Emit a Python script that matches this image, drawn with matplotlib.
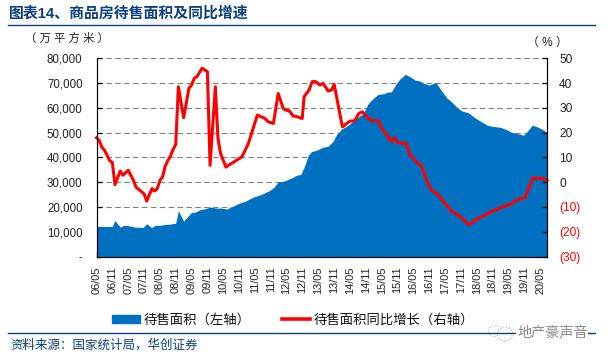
import matplotlib
matplotlib.use('Agg')
from matplotlib import pyplot as plt
from matplotlib.lines import Line2D
from matplotlib.patches import Ellipse, Patch

plt.rcParams['font.family'] = ['Liberation Sans', 'Noto Sans CJK SC', 'DejaVu Sans']

# months since 2006/05
area_months = [0, 6, 6.9, 9, 10.2, 11.7, 14.6, 17.7, 19, 20.9, 22.1, 24.7, 25.9, 27.8, 30, 31, 33, 35.8, 37.3,
               39.2, 41, 43, 45.5, 47.3, 49.2, 51.1, 53, 54.9, 56.2, 59.4, 62.5, 65.7, 67.3, 68.8, 70.7, 73.9,
               75.7, 77.4, 78.9, 80.2, 81.4, 83.3, 85.8, 87.7, 89.6, 90.9, 92.8, 95.3, 98.4, 101, 102.9, 104.8,
               106.6, 108.9, 109.8, 111.7, 113.6, 114.9, 117, 118.7, 120.6, 122.5, 124, 126, 128.5, 130, 132.6,
               134.4, 136.3, 138.2, 140.8, 143.3, 145.8, 147.9, 150.2, 152.7, 155.2, 157.1, 159.7, 161.8, 163.5,
               165, 167.2, 169.1, 170.6]
area_values = [12120, 12120, 14550, 11850, 12520, 12520, 11850, 11710, 13200, 11580, 12520, 12660, 12930, 13060,
               13470, 18460, 14280, 17650, 17920, 18870, 19270, 19950, 19540, 19540, 19140, 19950, 21030, 21840,
               22240, 24000, 25070, 26700, 28040, 30070, 30340, 31690, 32770, 33170, 36820, 40870, 42350, 42890,
               44100, 44510, 46530, 49230, 51390, 53000, 55700, 57730, 61780, 63810, 65430, 65700, 66240, 66500,
               69880, 71630, 73520, 72580, 71230, 70820, 69880, 69200, 70280, 67850, 64070, 62450, 60430, 58810,
               58000, 55970, 54350, 53000, 52470, 52200, 51250, 50170, 49500, 48960, 50980, 53000, 52200, 51120,
               50040]

growth_months = [0, 1, 2, 3, 4, 5, 6, 7, 8, 9, 10, 12, 13, 14, 15, 16, 18, 19, 21, 22, 23, 24, 25, 26, 27, 28, 29,
                 30, 31, 33, 35, 36, 37, 38, 40, 42, 43, 45, 46, 47, 49, 55, 56, 57.5, 58.7, 60.9, 63.8, 65, 67,
                 68.8, 70.7, 71.6, 73, 74.5, 76, 77.9, 78.6, 80.5, 81.7, 83, 84.6, 85.8, 87.7, 89, 90, 93.1, 95.9,
                 97.8, 99.3, 100.7, 102.6, 104.1, 106.6, 108.5, 111.7, 112.7, 114.2, 117.2, 118.7, 120.6, 123.1,
                 125, 126.9, 129, 130.7, 134.4, 137.6, 141, 143.9, 147, 149.6, 153.4, 156.5, 159.7, 162.2, 165.3,
                 167, 169.1, 170.6]
growth_values = [17.9, 16.9, 14.2, 12.9, 10.9, 8.7, 7.9, -1.0, 1.8, 4.5, 2.8, 4.8, 2.8, 0.7, -2.1, -2.9, -4.7, -7.6,
                 -2.6, -3.6, -2.6, 0.7, 2.1, 6.4, 8.7, 10.5, 13.2, 15.2, 38.5, 26, 37.9, 39.2, 41.9, 42.6, 46, 44.6,
                 6.8, 38.5, 17.6, 11.5, 6.1, 10.2, 12.2, 15.6, 19.6, 27.1, 25.7, 24.4, 23.7, 35.8, 29.8, 29.1, 28.8,
                 26.7, 26.4, 25.7, 34.5, 37.2, 40.6, 40.6, 39.2, 39.9, 36.8, 37.2, 39.5, 22.3, 24.6, 24.8, 27.7,
                 28.4, 26.1, 24.8, 24.8, 21, 16.5, 17.9, 15.9, 15.6, 11.1, 8.8, 6.5, 0.7, -3.3, -4.7, -6.9, -11.7,
                 -13.7, -17.2, -15, -13.4, -11.8, -10.1, -9, -6.9, -6.4, 1.8, 1.4, 1.6, 0.6]

x_labels = ['06/05', '06/11', '07/05', '07/11', '08/05', '08/11', '09/05', '09/11', '10/05', '10/11', '11/05',
            '11/11', '12/05', '12/11', '13/05', '13/11', '14/05', '14/11', '15/05', '15/11', '16/05', '16/11',
            '17/05', '17/11', '18/05', '18/11', '19/05', '19/11', '20/05']
left_ticks = [0, 10000, 20000, 30000, 40000, 50000, 60000, 70000, 80000]
left_labels = ['-', '10,000', '20,000', '30,000', '40,000', '50,000', '60,000', '70,000', '80,000']
right_ticks = [-30, -20, -10, 0, 10, 20, 30, 40, 50]
right_labels = ['(30)', '(20)', '(10)', '0', '10', '20', '30', '40', '50']

BLUE = '#0070C0'
RED = '#FF0000'
NAVY = '#0B3F7F'
TEXT = '#222222'
W, H = 610, 359

fig = plt.figure(figsize=(W / 100, H / 100), dpi=100)
ax = fig.add_axes([96.5 / W, 1 - 256.5 / H, 450.8 / W, 198.2 / H])
ax.fill_between(area_months, area_values, 0, color=BLUE, lw=0, zorder=2)
ax.set_xlim(0, 170.7)
ax.set_ylim(0, 80000)
ax.set_yticks(left_ticks)
ax.set_yticklabels(left_labels, fontsize=8.3, color=TEXT)
ax.set_xticks(range(0, 169, 6))
ax.set_xticklabels(x_labels, rotation=90, fontsize=7.9, color=TEXT)
ax.tick_params(axis='both', direction='in', length=3.6, width=0.9)
ax.tick_params(axis='x', pad=7)
ax.tick_params(axis='y', pad=10)
ax.grid(axis='y', color='#808080', ls=(0, (5, 3)), lw=0.8, zorder=1)
ax.set_axisbelow(True)
ax.spines['top'].set_visible(False)

ax2 = ax.twinx()
ax2.plot(growth_months, growth_values, color=RED, lw=2.2, solid_joinstyle='round', clip_on=False)
ax2.set_ylim(-30, 50)
ax2.set_yticks(right_ticks)
ax2.set_yticklabels(right_labels, fontsize=8.6)
for tick_text, v in zip(ax2.get_yticklabels(), right_ticks):
    tick_text.set_color(RED if v < 0 else TEXT)
ax2.tick_params(axis='y', direction='in', length=3.6, width=0.9, pad=8.5)
ax2.spines['top'].set_visible(False)

# header and footer
fig.text(9 / W, 1 - 13 / H, '图表14、商品房待售面积及同比增速', fontsize=10.7, fontweight='bold', color=NAVY,
         va='center', ha='left')
fig.add_artist(Line2D([8 / W, 595 / W], [1 - 24.5 / H] * 2, color=NAVY, lw=1.0))
fig.add_artist(Line2D([8 / W, 595 / W], [1 - 332.5 / H] * 2, color=NAVY, lw=1.0))
fig.text(10 / W, 1 - 345 / H, '资料来源：国家统计局，华创证券', fontsize=9.0, color=NAVY, va='center', ha='left')
fig.text(25 / W, 1 - 38 / H, '（ 万 平 方 米 ）', fontsize=8.2, color=TEXT, va='center', ha='left')
fig.text(527 / W, 1 - 43 / H, '（ % ）', fontsize=8.6, color=TEXT, va='center', ha='left')

handles = [Patch(color=BLUE), Line2D([], [], color=RED, lw=2.6)]
fig.legend(handles, ['待售面积（左轴）', '待售面积同比增长（右轴）'], loc='center left',
           bbox_to_anchor=(100 / W, 1 - 320 / H), ncol=2, frameon=False, fontsize=9.6, handlelength=2.1,
           handleheight=0.55, handletextpad=0.3, columnspacing=2.3, labelcolor='#111111')

# watermark
fig.add_artist(Ellipse((495 / W, 1 - 331 / H), 13 / W, 11 / H, fill=False, ec='#BBBBBB', lw=0.8, ls=':'))
fig.add_artist(Ellipse((505 / W, 1 - 334 / H), 15 / W, 14 / H, facecolor='white', ec='#AAAAAA', lw=0.8, ls=':'))
fig.text(517 / W, 1 - 332 / H, '地产豪声音', fontsize=10.2, color='#8A8A8A', va='center', ha='left',
         bbox=dict(facecolor='white', edgecolor='none', pad=0.5))

fig.savefig('out.png', dpi=100)
